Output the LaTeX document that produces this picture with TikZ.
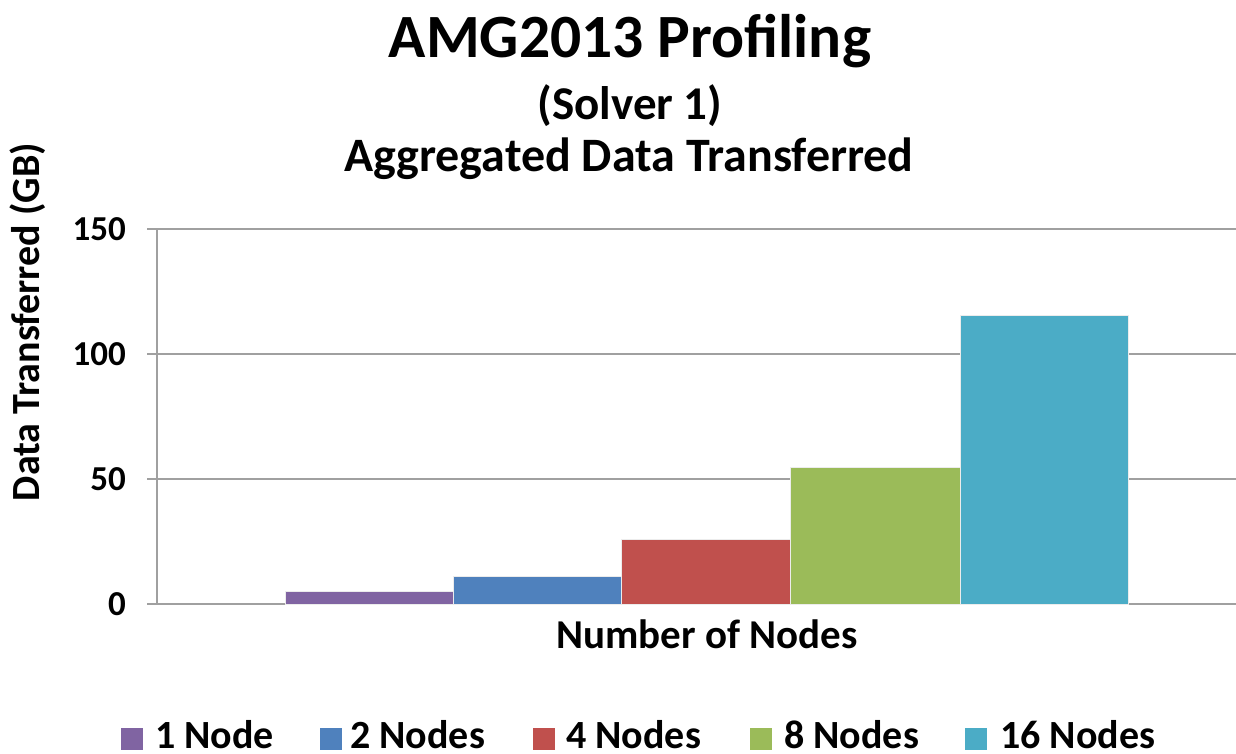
\documentclass[tikz,border=0pt]{standalone}
\usepackage{fontspec}
\setmainfont{Carlito}
\definecolor{cpurple}{HTML}{8064A2}
\definecolor{cblue}{HTML}{4F81BD}
\definecolor{cred}{HTML}{C0504D}
\definecolor{cgreen}{HTML}{9BBB59}
\definecolor{ccyan}{HTML}{4BACC6}
\definecolor{cgrid}{HTML}{A0A0A0}
\tikzset{
  bar/.style={draw=white!85!gray, line width=0.8pt},
  grid/.style={draw=cgrid, line width=1.5pt},
  ticklab/.style={anchor=east, inner sep=0pt, font=\fontsize{35}{35}\selectfont\bfseries},
  legbox/.style={minimum width=22pt, minimum height=22pt, inner sep=0pt},
  legtext/.style={anchor=base west, inner sep=0pt, font=\fontsize{40}{40}\selectfont\bfseries},
}
\begin{document}
\begin{tikzpicture}[x=1pt,y=-1pt]
\useasboundingbox (0,0) rectangle (1236,753);
% titles
\node[anchor=base, inner sep=0pt, font=\fontsize{61.5}{61.5}\selectfont\bfseries] (t1) at (630,57) {AMG2013 Profiling};
\node[anchor=base, inner sep=0pt, font=\fontsize{47}{47}\selectfont\bfseries] (t2) at (630,119) {(Solver 1)};
\node[anchor=base, inner sep=0pt, font=\fontsize{48}{48}\selectfont\bfseries] (t3) at (629,171) {Aggregated Data Transferred};
% gridlines
\coordinate (g150l) at (147,229); \coordinate (g150r) at (1236,229);
\coordinate (g100l) at (147,354); \coordinate (g100r) at (1236,354);
\coordinate (g50l) at (147,479);  \coordinate (g50r) at (1236,479);
\coordinate (g0l) at (147,604);   \coordinate (g0r) at (1236,604);
\draw[grid] (g150l) -- (g150r);
\draw[grid] (g100l) -- (g100r);
\draw[grid] (g50l) -- (g50r);
\draw[grid] (g0l) -- (g0r);
\coordinate (axtop) at (157,229); \coordinate (axbot) at (157,604);
\draw[grid] (axtop) -- (axbot);
% tick labels
\node[ticklab] (l150) at (126,229) {150};
\node[ticklab] (l100) at (126,354) {100};
\node[ticklab] (l50) at (126,479) {50};
\node[ticklab] (l0) at (126,604) {0};
% bars
\fill[cpurple] (285,604) rectangle (453,591.5);
\fill[cblue] (453,604) rectangle (621,576);
\fill[cred] (621,604) rectangle (790,539);
\fill[cgreen] (790,604) rectangle (960,467);
\fill[ccyan] (960,604) rectangle (1128,315);
\draw[bar] (285,604) rectangle (453,591.5);
\draw[bar] (453,604) rectangle (621,576);
\draw[bar] (621,604) rectangle (790,539);
\draw[bar] (790,604) rectangle (960,467);
\draw[bar] (960,604) rectangle (1128,315);
% axis titles
\node[rotate=90, inner sep=0pt, font=\fontsize{40}{40}\selectfont\bfseries] (ytitle) at (28,322) {Data Transferred (GB)};
\node[anchor=base, inner sep=0pt, font=\fontsize{41}{41}\selectfont\bfseries] (xtitle) at (707,648) {Number of Nodes};
% legend
\node[legbox, fill=cpurple] (k1) at (131.5,739) {};
\node[legtext] (n1) at (155,748) {1 Node};
\node[legbox, fill=cblue] (k2) at (331,739) {};
\node[legtext] (n2) at (350,748) {2 Nodes};
\node[legbox, fill=cred] (k3) at (544,739) {};
\node[legtext] (n3) at (566,748) {4 Nodes};
\node[legbox, fill=cgreen] (k4) at (761,739) {};
\node[legtext] (n4) at (784,748) {8 Nodes};
\node[legbox, fill=ccyan] (k5) at (976,739) {};
\node[legtext] (n5) at (1000,748) {16 Nodes};
\end{tikzpicture}
\end{document}
